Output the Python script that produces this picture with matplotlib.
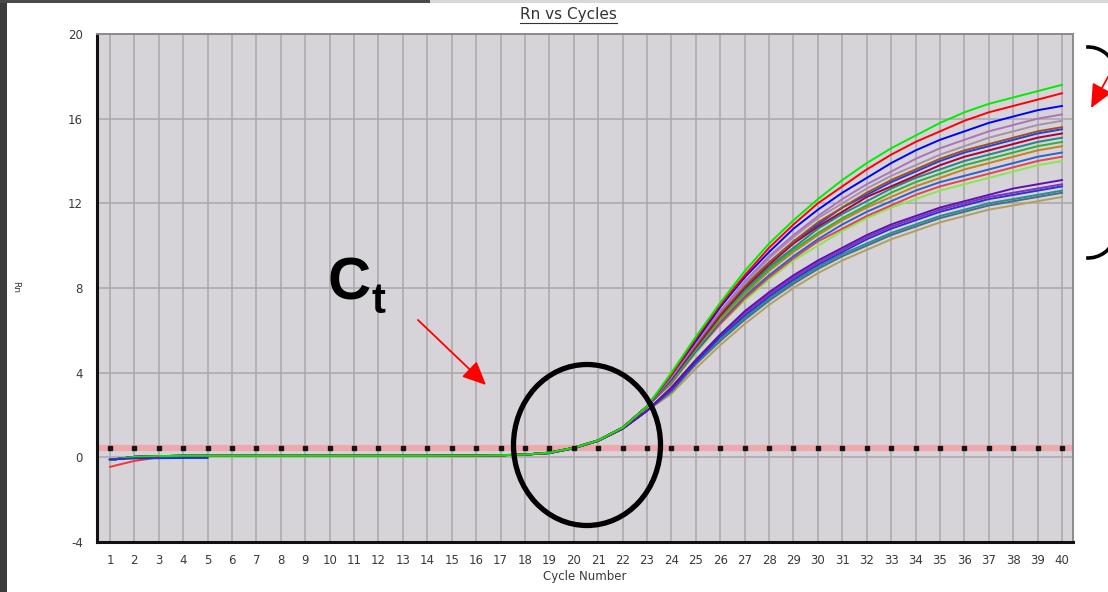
import matplotlib.pyplot as plt
import numpy as np
from matplotlib.patches import Arc, Ellipse, FancyArrowPatch, Rectangle
from matplotlib.lines import Line2D

plt.rcParams['font.family'] = ['DejaVu Sans']
plt.rcParams['axes.unicode_minus'] = False

W, H = 1108, 592

cycles = np.arange(1, 41)
x_labels = [str(c) for c in cycles]
y_ticks = [-4, 0, 4, 8, 12, 16, 20]
threshold = 0.45

# flat part, cycles 1-18 (same for every well)
baseline = [-0.12, 0.02, 0.06, 0.07, 0.07, 0.07, 0.07, 0.07, 0.07,
            0.07, 0.07, 0.07, 0.07, 0.07, 0.08, 0.08, 0.1, 0.13]
# start of the rise, cycles 19-23
rise_upper = [0.22, 0.45, 0.8, 1.4, 2.4]
rise_lower = [0.2, 0.43, 0.78, 1.35, 2.2]

# cycles 24-40
upper_wells = [
    [3.5, 4.9, 6.3, 7.4, 8.4, 9.3, 10.0, 10.7, 11.3, 11.8, 12.2, 12.6, 12.9, 13.2, 13.5, 13.8, 14.0],
    [3.5, 5.0, 6.3, 7.5, 8.5, 9.4, 10.2, 10.8, 11.4, 11.9, 12.4, 12.8, 13.1, 13.4, 13.7, 14.0, 14.2],
    [3.6, 5.0, 6.4, 7.6, 8.6, 9.5, 10.3, 11.0, 11.6, 12.1, 12.6, 13.0, 13.3, 13.6, 13.9, 14.2, 14.4],
    [3.6, 5.1, 6.5, 7.7, 8.8, 9.7, 10.5, 11.2, 11.8, 12.3, 12.8, 13.2, 13.6, 13.9, 14.2, 14.5, 14.7],
    [3.6, 5.1, 6.6, 7.8, 8.9, 9.8, 10.6, 11.3, 11.9, 12.5, 13.0, 13.4, 13.8, 14.1, 14.4, 14.7, 14.9],
    [3.7, 5.2, 6.7, 7.9, 9.0, 9.9, 10.8, 11.5, 12.1, 12.7, 13.2, 13.6, 14.0, 14.3, 14.6, 14.9, 15.1],
    [3.7, 5.2, 6.7, 8.0, 9.1, 10.1, 10.9, 11.6, 12.3, 12.8, 13.3, 13.8, 14.2, 14.5, 14.8, 15.1, 15.3],
    [3.7, 5.3, 6.8, 8.1, 9.2, 10.2, 11.0, 11.8, 12.4, 13.0, 13.5, 14.0, 14.4, 14.7, 15.0, 15.3, 15.5],
    [3.8, 5.3, 6.8, 8.1, 9.2, 10.2, 11.1, 11.8, 12.5, 13.1, 13.6, 14.1, 14.5, 14.8, 15.1, 15.4, 15.6],
    [3.8, 5.4, 6.9, 8.2, 9.4, 10.4, 11.3, 12.0, 12.7, 13.3, 13.8, 14.3, 14.7, 15.1, 15.4, 15.7, 15.9],
    [3.8, 5.4, 6.9, 8.3, 9.5, 10.5, 11.4, 12.2, 12.9, 13.5, 14.1, 14.6, 15.0, 15.4, 15.7, 16.0, 16.2],
    [3.9, 5.5, 7.1, 8.5, 9.7, 10.8, 11.7, 12.5, 13.2, 13.9, 14.5, 15.0, 15.4, 15.8, 16.1, 16.4, 16.6],
    [3.9, 5.6, 7.2, 8.6, 9.9, 11.0, 12.0, 12.8, 13.6, 14.3, 14.9, 15.4, 15.9, 16.3, 16.6, 16.9, 17.2],
    [4.0, 5.7, 7.3, 8.8, 10.1, 11.2, 12.2, 13.1, 13.9, 14.6, 15.2, 15.8, 16.3, 16.7, 17.0, 17.3, 17.6],
]
upper_colors = ['#88e850', '#e04848', '#3060d0', '#c88020', '#30b030', '#208888',
                '#b00030', '#2040e0', '#a05020', '#a890a8', '#b070c0', '#0000ff',
                '#ff0000', '#00ee00']

lower_wells = [
    [3.0, 4.2, 5.3, 6.3, 7.2, 8.0, 8.7, 9.3, 9.8, 10.3, 10.7, 11.1, 11.4, 11.7, 11.9, 12.1, 12.3],
    [3.1, 4.4, 5.5, 6.5, 7.4, 8.2, 8.9, 9.5, 10.0, 10.5, 10.9, 11.3, 11.6, 11.9, 12.1, 12.3, 12.5],
    [3.2, 4.5, 5.6, 6.6, 7.5, 8.3, 9.0, 9.6, 10.1, 10.6, 11.0, 11.4, 11.7, 12.0, 12.2, 12.4, 12.6],
    [3.2, 4.5, 5.7, 6.7, 7.6, 8.4, 9.1, 9.7, 10.3, 10.8, 11.2, 11.6, 11.9, 12.2, 12.4, 12.6, 12.8],
    [3.3, 4.6, 5.8, 6.8, 7.7, 8.5, 9.2, 9.8, 10.4, 10.9, 11.3, 11.7, 12.0, 12.3, 12.5, 12.7, 12.9],
    [3.3, 4.6, 5.8, 6.9, 7.8, 8.6, 9.3, 9.9, 10.5, 11.0, 11.4, 11.8, 12.1, 12.4, 12.7, 12.9, 13.1],
]
lower_colors = ['#b0a060', '#506888', '#209090', '#3030d0', '#8030c0', '#6010b0']

# odd wells at the very start
red_start = [-0.45, -0.17, 0.0]
blue_start = [-0.1, -0.05, -0.04, -0.03, -0.03]


def px(x, y):
    return x / W, 1 - y / H


fig = plt.figure(figsize=(W / 100, H / 100), dpi=100)
ax = fig.add_axes([97 / W, 1 - 542 / H, (1073 - 97) / W, (542 - 34) / H])
ax.set_facecolor('#d6d4d9')

for c in cycles:
    ax.axvline(c, color='#a9a7ab', lw=1.1, zorder=1)
for v in y_ticks:
    ax.axhline(v, color='#a9a7ab', lw=1.1, zorder=1)

# threshold
ax.plot([0.5, 40.5], [threshold, threshold], color='#f2a4a8', lw=4.5, alpha=0.9, zorder=2)
ax.plot(cycles, [threshold] * len(cycles), ls='none', marker='s', ms=3.5,
        color='#151515', zorder=6)

for vals, col in zip(lower_wells, lower_colors):
    ax.plot(cycles, baseline + rise_lower + vals, color=col, lw=1.4, zorder=3)
for vals, col in zip(upper_wells, upper_colors):
    ax.plot(cycles, baseline + rise_upper + vals, color=col, lw=1.4, zorder=4)
ax.plot(cycles[:3], red_start, color='#ff3030', lw=1.4, zorder=5)
ax.plot(cycles[:5], blue_start, color='#2030e0', lw=1.4, zorder=5)

ax.set_xlim(0.47, 40.45)
ax.set_ylim(-4, 20)
ax.set_xticks(cycles)
ax.set_xticklabels(x_labels)
ax.set_yticks(y_ticks)
ax.tick_params(length=0, labelsize=8.5, labelcolor='#3a3a3a')
ax.tick_params(axis='x', pad=9)
ax.tick_params(axis='y', pad=10)
ax.set_xlabel('Cycle Number', fontsize=8.5, color='#3a3a3a', labelpad=2)

for side in ['left', 'bottom']:
    ax.spines[side].set_linewidth(2.2)
    ax.spines[side].set_color('#111111')
for side in ['top', 'right']:
    ax.spines[side].set_linewidth(1.4)
    ax.spines[side].set_color('#8a8a8a')

fig.text(16 / W, 1 - 287 / H, 'Rn', rotation=270, fontsize=6.5, color='#3a3a3a',
         ha='center', va='center')

# title with underline
fig.text(*px(568, 15), 'Rn vs Cycles', fontsize=11, color='#333333', ha='center', va='center')
fig.add_artist(Line2D([520 / W, 617 / W], [1 - 23 / H, 1 - 23 / H], color='#333333', lw=0.8))

# window frame bits
fig.add_artist(Rectangle((0, 0), 7 / W, 1, color='#3c3c3c', lw=0))
fig.add_artist(Rectangle((0, 1 - 3 / H), 1, 3 / H, color='#d8d8d8', lw=0))
fig.add_artist(Rectangle((0, 1 - 3 / H), 430 / W, 3 / H, color='#4a4a4a', lw=0))

# Ct annotation
fig.text(*px(328, 300), 'C', fontsize=43, fontweight='bold', family='Liberation Sans',
         ha='left', va='baseline')
fig.text(*px(371, 313), 't', fontsize=30, fontweight='bold', family='Liberation Sans',
         ha='left', va='baseline')
fig.add_artist(FancyArrowPatch(px(418, 320), px(486, 385), transform=fig.transFigure,
                               arrowstyle='-|>,head_length=1.2,head_width=0.55',
                               mutation_scale=12, color='#ff0000', lw=1.3,
                               shrinkA=0, shrinkB=0))
fig.add_artist(Ellipse(px(587, 445), 147 / W, 161 / H, transform=fig.transFigure,
                       fill=False, ec='black', lw=3.8))

# bracket on the right
fig.add_artist(Arc(px(1088, 75), 56 / W, 56 / H, theta1=20, theta2=92,
                   transform=fig.transFigure, color='black', lw=2.6))
fig.add_artist(Arc(px(1088, 230), 56 / W, 56 / H, theta1=-92, theta2=-20,
                   transform=fig.transFigure, color='black', lw=2.6))
fig.add_artist(FancyArrowPatch(px(1114, 66), px(1091, 108), transform=fig.transFigure,
                               arrowstyle='-|>,head_length=1.2,head_width=0.55',
                               mutation_scale=12, color='#ff0000', lw=1.3,
                               shrinkA=0, shrinkB=0))

fig.savefig('out.png', dpi=100)
